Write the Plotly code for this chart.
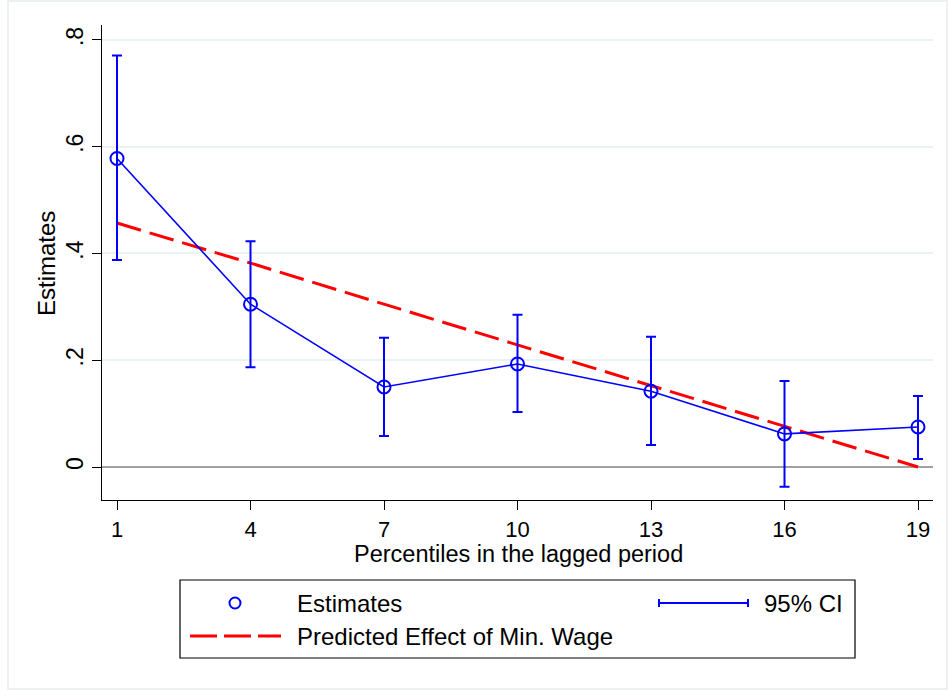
import plotly.graph_objects as go

# Percentile positions in the lagged period
percentiles = [1, 4, 7, 10, 13, 16, 19]

# Point estimates and 95% confidence bounds
estimates = [0.578, 0.305, 0.150, 0.193, 0.142, 0.062, 0.075]
ci_upper = [0.771, 0.423, 0.242, 0.285, 0.244, 0.161, 0.133]
ci_lower = [0.388, 0.187, 0.058, 0.103, 0.041, -0.037, 0.015]

# Predicted effect of the minimum wage at each percentile
predicted = [0.457, 0.382, 0.305, 0.229, 0.152, 0.076, 0.0]

# Axis ticks
x_ticks = [1, 4, 7, 10, 13, 16, 19]
x_ticklabels = ["1", "4", "7", "10", "13", "16", "19"]
y_ticks = [0, 0.2, 0.4, 0.6, 0.8]
y_ticklabels = ["0", ".2", ".4", ".6", ".8"]

W, H = 948, 690
L, R, T, B = 102, 933, 25, 500  # plot-area pixel box
FONT = "Liberation Sans, Arial, Helvetica, sans-serif"
BLUE = "#0000ff"
RED = "#ff0000"
DASH = "25px,9px"


def px(x):
    return (x - L) / (R - L)


def py(y):
    return (B - y) / (B - T)


fig = go.Figure()

# Predicted effect (dashed red)
fig.add_trace(go.Scatter(
    x=percentiles, y=predicted, mode="lines",
    line=dict(color=RED, width=3, dash=DASH),
    showlegend=False, hoverinfo="skip",
))

# Estimates with 95% CI bars
err_plus = [u - e for u, e in zip(ci_upper, estimates)]
err_minus = [e - l for e, l in zip(estimates, ci_lower)]
fig.add_trace(go.Scatter(
    x=percentiles, y=estimates, mode="lines+markers",
    line=dict(color=BLUE, width=1.6),
    marker=dict(symbol="circle-open", size=13, color=BLUE, line=dict(width=2, color=BLUE)),
    error_y=dict(type="data", array=err_plus, arrayminus=err_minus,
                 color=BLUE, thickness=2, width=5),
    showlegend=False,
))

shapes = []
annotations = []

# Outer frame
shapes.append(dict(type="rect", xref="paper", yref="paper",
                   x0=px(8), x1=px(947), y0=py(1), y1=py(689),
                   line=dict(color="#e6eef1", width=1.5), layer="below"))

# Legend box
lx0, lx1, ly0, ly1 = 180, 855, 580, 658
shapes.append(dict(type="rect", xref="paper", yref="paper",
                   x0=px(lx0), x1=px(lx1), y0=py(ly0), y1=py(ly1),
                   line=dict(color="black", width=1.2), fillcolor="white"))
# Estimates symbol
r = 5.5
shapes.append(dict(type="circle", xref="paper", yref="paper",
                   x0=px(235 - r), x1=px(235 + r), y0=py(603 - r), y1=py(603 + r),
                   line=dict(color=BLUE, width=2)))
# Predicted symbol
shapes.append(dict(type="line", xref="paper", yref="paper",
                   x0=px(190), x1=px(281), y0=py(636), y1=py(636),
                   line=dict(color=RED, width=3, dash="27px,7px")))
# CI symbol
shapes.append(dict(type="line", xref="paper", yref="paper",
                   x0=px(659), x1=px(748), y0=py(603), y1=py(603),
                   line=dict(color=BLUE, width=2)))
for cx in (659, 748):
    shapes.append(dict(type="line", xref="paper", yref="paper",
                       x0=px(cx), x1=px(cx), y0=py(599), y1=py(607),
                       line=dict(color=BLUE, width=2)))

legend_font = dict(family=FONT, size=24, color="black")
for text, x, y in [("Estimates", 295, 603), ("95% CI", 762, 603),
                   ("Predicted Effect of Min. Wage", 295, 636)]:
    annotations.append(dict(text=text, xref="paper", yref="paper", x=px(x), y=py(y),
                            xanchor="left", yanchor="middle", showarrow=False,
                            font=legend_font))

# Axis titles
annotations.append(dict(text="Percentiles in the lagged period", xref="paper", yref="paper",
                        x=px(518), y=py(554), xanchor="center", yanchor="middle",
                        showarrow=False, font=dict(family=FONT, size=23.5, color="black")))
annotations.append(dict(text="Estimates", xref="paper", yref="paper",
                        x=px(46), y=py(264), xanchor="center", yanchor="middle",
                        textangle=-90, showarrow=False, font=legend_font))

fig.update_layout(
    width=W, height=H,
    margin=dict(l=L, r=W - R, t=T, b=H - B, pad=0),
    paper_bgcolor="white", plot_bgcolor="white",
    font=dict(family=FONT, size=22, color="black"),
    shapes=shapes, annotations=annotations,
    showlegend=False,
)

fig.update_xaxes(
    range=[0.663, 19.337], tickmode="array", tickvals=x_ticks, ticktext=x_ticklabels,
    ticks="outside", ticklen=9, tickwidth=1.2, tickcolor="black",
    showline=True, linecolor="black", linewidth=1.2,
    showgrid=False, zeroline=False,
    tickfont=dict(family=FONT, size=22, color="black"),
)
fig.update_yaxes(
    range=[-0.0618, 0.828], tickmode="array", tickvals=y_ticks, ticktext=y_ticklabels,
    ticks="outside", ticklen=9, tickwidth=1.2, tickcolor="black", tickangle=-90,
    showline=True, linecolor="black", linewidth=1.2,
    showgrid=True, gridcolor="#eaf2f3", gridwidth=1.5,
    zeroline=True, zerolinecolor="#a0a0a0", zerolinewidth=2,
    tickfont=dict(family=FONT, size=23, color="black"),
)

fig.write_html("out.html")
